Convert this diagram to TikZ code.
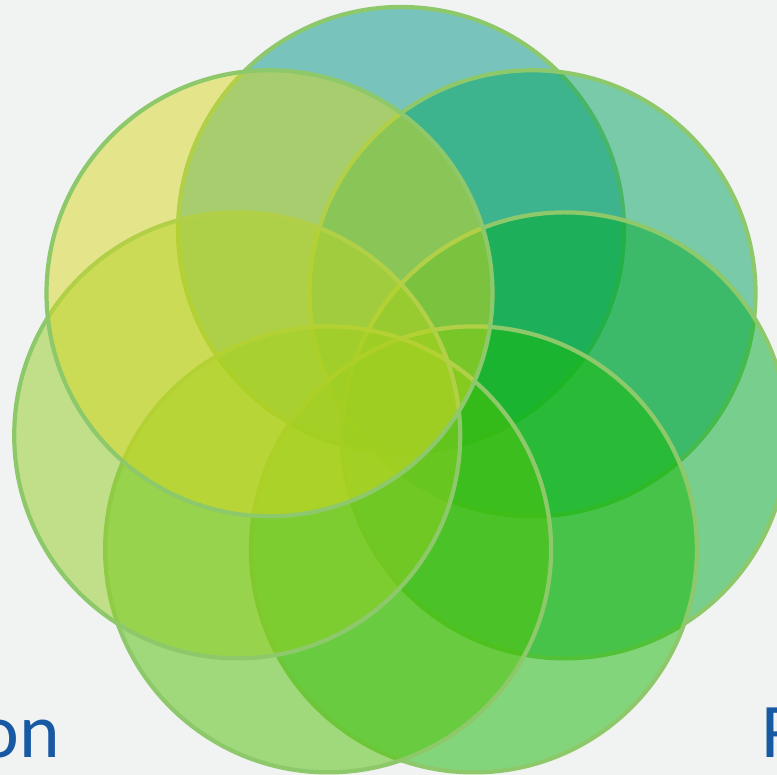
\documentclass[tikz,border=0pt]{standalone}
\usepackage{fontspec}
\setmainfont{Carlito}
\usepackage{tikz}

\definecolor{paper}{HTML}{F1F2F2}
\definecolor{rim}{HTML}{8DC96B}
\definecolor{inkblue}{HTML}{1859A4}
\definecolor{cteal}{RGB}{0,150,136}
\definecolor{cyellow}{RGB}{216,216,36}
\definecolor{cjade}{RGB}{3,164,98}
\definecolor{clime}{RGB}{147,206,34}
\definecolor{cemerald}{RGB}{0,172,42}
\definecolor{cleaf}{RGB}{79,194,6}
\definecolor{cgrass}{RGB}{23,186,6}

\tikzset{
  petal/.style={circle, draw=rim, line width=1.2pt, fill opacity=0.5,
    minimum size=4.46cm, inner sep=0pt},
  cut/.style={text=inkblue, inner sep=0pt, font=\fontsize{22}{26}\selectfont}
}

\begin{document}
\begin{tikzpicture}
  \path[use as bounding box, fill=paper] (0,0) rectangle (7.77,7.75);
  \node[petal, fill=cteal] (top) at (4.01,5.45) {};
  \node[petal, fill=cjade] (ur) at (5.325,4.817) {};
  \node[petal, fill=cemerald] (mr) at (5.648,3.396) {};
  \node[petal, fill=cgrass] (br) at (4.739,2.256) {};
  \node[petal, fill=cleaf] (bl) at (3.281,2.256) {};
  \node[petal, fill=clime] (ml) at (2.372,3.396) {};
  \node[petal, fill=cyellow] (ul) at (2.695,4.817) {};
  \node[cut, anchor=base east] (lefttail) at (0.61,0.17) {on};
  \node[cut, anchor=base west] (righthead) at (7.61,0.17) {R};
\end{tikzpicture}
\end{document}
